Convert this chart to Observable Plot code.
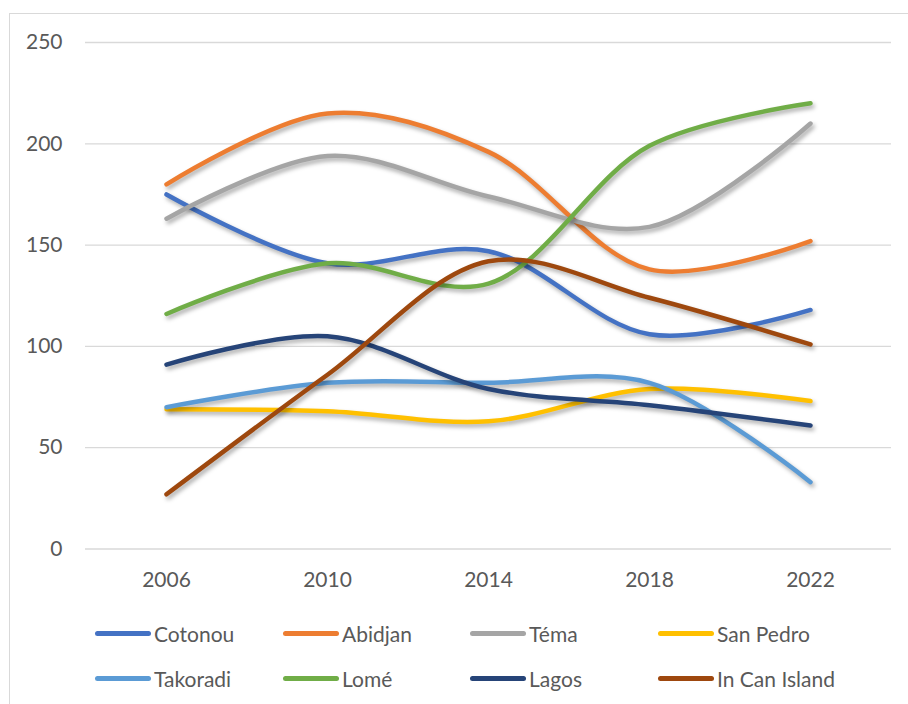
<!DOCTYPE html>
<html>
<head>
<meta charset="utf-8">
<script src="https://cdn.jsdelivr.net/npm/d3@7"></script>
<script src="https://cdn.jsdelivr.net/npm/@observablehq/plot@0.6"></script>
<style>
  body { margin: 0; background: #fff; font-family: Lato, "Open Sans", sans-serif; }
  #wrap { position: relative; width: 908px; height: 704px; overflow: hidden; }
  #frame { position: absolute; left: 9px; top: 13px; width: 920px; height: 720px; border: 1px solid #d9d9d9; box-sizing: border-box; }
  #chart { position: absolute; left: 0; top: 0; }
  #chart svg g[aria-label="line"] path { filter: drop-shadow(2px 3px 2px rgba(0,0,0,0.32)); }
  .leg { position: absolute; display: flex; align-items: center; font-size: 21px; color: #595959; font-family: Lato, sans-serif; }
  .sw { width: 56px; height: 5px; border-radius: 3px; margin-right: 3px; }
</style>
</head>
<body>
<div id="wrap">
  <div id="frame"></div>
  <div id="chart"></div>
</div>
<script>
const years = ["2006", "2010", "2014", "2018", "2022"];
const seriesNames = ["Cotonou", "Abidjan", "Téma", "San Pedro", "Takoradi", "Lomé", "Lagos", "In Can Island"];
const colors = ["#4472C4", "#ED7D31", "#A5A5A5", "#FFC000", "#5B9BD5", "#70AD47", "#264478", "#9E480E"];
const cotonou = [175, 141, 147, 106, 118];
const abidjan = [180, 215, 196, 138, 152];
const tema = [163, 194, 174, 159, 210];
const sanPedro = [69, 68, 63, 79, 73];
const takoradi = [70, 82, 82, 82, 33];
const lome = [116, 141, 131, 199, 220];
const lagos = [91, 105, 79, 71, 61];
const inCanIsland = [27, 86, 142, 124, 101];
const yTicks = [0, 50, 100, 150, 200, 250];

const allValues = [cotonou, abidjan, tema, sanPedro, takoradi, lome, lagos, inCanIsland];
const data = [];
seriesNames.forEach((s, i) => years.forEach((y, j) => data.push({series: s, year: y, value: allValues[i][j]})));

const chart = Plot.plot({
  width: 908,
  height: 600,
  marginTop: 42,
  marginBottom: 51.5,
  marginLeft: 85,
  marginRight: 17,
  style: { fontFamily: "Lato, 'Open Sans', sans-serif", fontSize: "21px", color: "#595959", background: "transparent" },
  x: { type: "point", domain: years, padding: 0.5, label: null },
  y: { domain: [0, 250], label: null },
  color: { domain: seriesNames, range: colors },
  marks: [
    Plot.ruleY(yTicks, { stroke: "#d9d9d9", strokeWidth: 1.3 }),
    Plot.axisY({ ticks: yTicks, tickSize: 0, tickPadding: 23, fill: "#595959", fontSize: 21, label: null }),
    Plot.axisX({ tickSize: 0, tickPadding: 23.5, fill: "#595959", fontSize: 21, label: null }),
    Plot.line(data, { x: "year", y: "value", z: "series", stroke: "series", strokeWidth: 4.5, curve: "catmull-rom", strokeLinecap: "round", strokeLinejoin: "round" })
  ]
});
document.getElementById("chart").appendChild(chart);

const legPos = [[95, 633], [283, 633], [470, 633], [658, 633], [95, 678], [283, 678], [470, 678], [658, 678]];
seriesNames.forEach((name, i) => {
  const d = document.createElement("div");
  d.className = "leg";
  d.style.left = legPos[i][0] + "px";
  d.style.top = (legPos[i][1] - 14) + "px";
  d.style.height = "28px";
  const sw = document.createElement("div");
  sw.className = "sw";
  sw.style.background = colors[i];
  const t = document.createElement("span");
  t.textContent = name;
  d.appendChild(sw); d.appendChild(t);
  document.getElementById("wrap").appendChild(d);
});
</script>
</body>
</html>
